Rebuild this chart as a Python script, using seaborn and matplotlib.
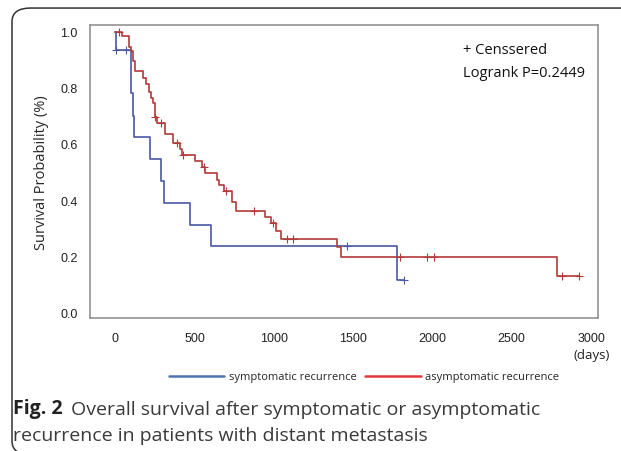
import matplotlib
matplotlib.use("Agg")
import matplotlib.pyplot as plt
from matplotlib.lines import Line2D
from matplotlib.patches import FancyBboxPatch
import seaborn as sns

# ---- Kaplan-Meier step data ----
sym_days = [0, 2, 100, 110, 115, 219, 288, 309, 472, 601, 1779, 1821]
sym_surv = [1.0, 0.936, 0.78, 0.70, 0.625, 0.547, 0.469, 0.39, 0.312, 0.235, 0.117, 0.117]
sym_cens_days = [2, 66, 1459, 1821]
sym_cens_surv = [0.936, 0.936, 0.235, 0.117]

asym_days = [0, 44, 87, 99, 114, 124, 177, 192, 213, 225, 240, 250, 261, 313, 362, 408,
             423, 503, 545, 566, 643, 652, 688, 738, 763, 942, 981, 1010, 1044, 1400,
             1421, 2784, 2925]
asym_surv = [1.0, 0.984, 0.947, 0.932, 0.897, 0.861, 0.835, 0.814, 0.784, 0.764, 0.745,
             0.695, 0.675, 0.635, 0.602, 0.582, 0.561, 0.538, 0.517, 0.496, 0.471, 0.454,
             0.433, 0.392, 0.363, 0.341, 0.318, 0.290, 0.262, 0.232, 0.196, 0.130, 0.130]
asym_cens_days = [23, 251, 288, 390, 425, 561, 696, 875, 993, 1081, 1119, 1795, 1964, 2012, 2815, 2925]
asym_cens_surv = [1.0, 0.695, 0.675, 0.602, 0.561, 0.517, 0.433, 0.363, 0.318, 0.262, 0.262,
                  0.196, 0.196, 0.196, 0.130, 0.130]

x_ticks = [0, 500, 1000, 1500, 2000, 2500, 3000]
y_ticks = [0.0, 0.2, 0.4, 0.6, 0.8, 1.0]

blue = "#4a58a6"
red = "#b23a3a"

sns.set_theme(style="white")
plt.rcParams["font.family"] = ["Liberation Sans", "DejaVu Sans"]

fig = plt.figure(figsize=(6.21, 4.52), dpi=100)
ax = fig.add_axes([90 / 621, 1 - 319 / 452, 508 / 621, 293 / 452])

# ---- Curves ----
sns.lineplot(x=sym_days, y=sym_surv, drawstyle="steps-post", color=blue, linewidth=1.2,
             estimator=None, ax=ax)
sns.lineplot(x=asym_days, y=asym_surv, drawstyle="steps-post", color=red, linewidth=1.2,
             estimator=None, ax=ax)
sns.scatterplot(x=sym_cens_days, y=sym_cens_surv, marker="+", color=blue, s=40,
                linewidth=0.8, ax=ax)
sns.scatterplot(x=asym_cens_days, y=asym_cens_surv, marker="+", color=red, s=40,
                linewidth=0.8, ax=ax)

# ---- Axes formatting ----
ax.set_xlim(-160, 3044)
ax.set_ylim(-0.02, 1.024)
ax.set_xticks(x_ticks)
ax.set_yticks(y_ticks)
ax.set_xticklabels([str(t) for t in x_ticks], fontsize=9, color="#222222")
ax.set_yticklabels([f"{t:.1f}" for t in y_ticks], fontsize=9, color="#222222")
ax.tick_params(axis="both", direction="out", length=5, width=1, color="#8a8a8a", pad=4)
ax.tick_params(axis="x", pad=5)
for sp in ax.spines.values():
    sp.set_color("#8a8a8a")
    sp.set_linewidth(1.1)
ax.set_xlabel("")
ax.set_ylabel("Survival Probability (%)", fontsize=10.5, family="Open Sans", labelpad=8)

ax.text(0.735, 0.905, "+ Censsered", transform=ax.transAxes, fontsize=10.5,
        family="Open Sans", color="#111111")
ax.text(0.735, 0.825, "Logrank P=0.2449", transform=ax.transAxes, fontsize=10.5,
        family="Open Sans", color="#111111")
fig.text(592 / 621, 1 - 355 / 452, "(days)", ha="center", va="center", fontsize=9.5,
         family="Open Sans", color="#222222")

# ---- Legend ----
handles = [Line2D([], [], color="#4f74b0", linewidth=1.8),
           Line2D([], [], color="#e03a3a", linewidth=1.8)]
fig.legend(handles, ["symptomatic recurrence", "asymptomatic recurrence"], ncol=2,
           loc="center", bbox_to_anchor=(364 / 621, 1 - 378 / 452), frameon=False,
           prop={"family": "Open Sans", "size": 8}, handlelength=5, columnspacing=0.8,
           handletextpad=0.4)

# ---- Caption ----
cap_size = 14
t1 = fig.text(13 / 621, 1 - 414 / 452, "Fig. 2", fontsize=cap_size, fontweight="bold",
              family="Open Sans", color="#222222")
ax.annotate("Overall survival after symptomatic or asymptomatic", xy=(1, 0), xycoords=t1,
            xytext=(6, 0), textcoords="offset points", fontsize=cap_size, family="Open Sans",
            color="#3a3a3a", va="bottom")
fig.text(13 / 621, 1 - 441 / 452, "recurrence in patients with distant metastasis",
         fontsize=cap_size, family="Open Sans", color="#3a3a3a")

# ---- Outer frame ----
frame = FancyBboxPatch((12 / 621, -0.008), 1.5, 0.980 + 0.008,
                       boxstyle="round,pad=0,rounding_size=0.03", transform=fig.transFigure,
                       fill=False, edgecolor="#333333", linewidth=1.1, clip_on=False)
fig.add_artist(frame)

fig.savefig("out.png", dpi=100)
